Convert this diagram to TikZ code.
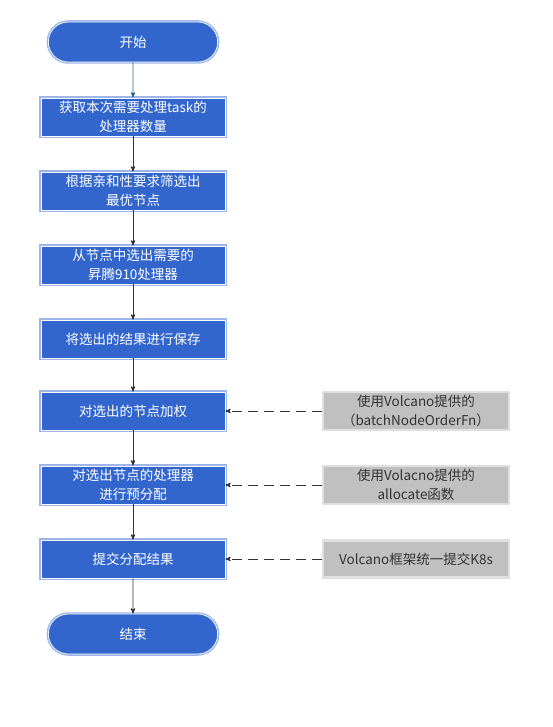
\documentclass[tikz,border=0pt]{standalone}
\usepackage{fontspec}
\setmainfont{Noto Sans CJK SC}
\usepackage{tikz}
\usetikzlibrary{arrows,shapes.misc}

\definecolor{boxblue}{HTML}{3366CC}
\definecolor{boxedge}{HTML}{9DB5E8}
\definecolor{notegray}{HTML}{C0C0C0}
\definecolor{noteedge}{HTML}{E0E0E0}
\definecolor{linegray}{HTML}{333333}
\definecolor{startline}{HTML}{2A6699}

\tikzset{
  stepbox/.style={rectangle, fill=boxblue, draw=white, line width=0.7pt,
    preaction={draw=boxedge, line width=3.5pt},
    minimum width=184pt, minimum height=38pt, text=white, align=center,
    font=\fontsize{13.5}{19}\selectfont},
  term/.style={stepbox, rounded rectangle, minimum width=176pt, minimum height=40pt},
  note/.style={rectangle, fill=notegray, draw=noteedge, line width=2.5pt,
    minimum width=186pt, minimum height=37pt, text=linegray, align=center,
    font=\fontsize{13.5}{19}\selectfont}
}

\begin{document}
\begin{tikzpicture}[x=1pt,y=-1pt]
\useasboundingbox (0,0) rectangle (553,727);
\node[term]      (S) at (133,42)   {开始};
  \node[stepbox]   (A) at (133,117)  {获取本次需要处理task的\\处理器数量};
  \node[stepbox]   (B) at (133,191)  {根据亲和性要求筛选出\\最优节点};
  \node[stepbox]   (C) at (133,265)  {从节点中选出需要的\\昇腾910处理器};
  \node[stepbox]   (D) at (133,339)  {将选出的结果进行保存};
  \node[stepbox]   (E) at (133,411)  {对选出的节点加权};
  \node[stepbox]   (F) at (133,485)  {对选出节点的处理器\\进行预分配};
  \node[stepbox]   (G) at (133,559)  {提交分配结果};
  \node[term]      (T) at (133,634)  {结束};

  \node[note]      (N1) at (416,411) {使用Volcano提供的\\（batchNodeOrderFn）};
  \node[note]      (N2) at (416,485) {使用Volacno提供的\\allocate函数};
  \node[note]      (N3) at (416,559) {Volcano框架统一提交K8s};


  \path[->,>=stealth', draw=startline, line width=0.9pt]
        (S) edge (A);

  \path[->,>=stealth', draw=linegray, line width=0.9pt]
        (A) edge (B)
        (B) edge (C)
        (C) edge (D)
        (D) edge (E)
        (E) edge (F)
        (F) edge (G)
        (G) edge (T);

  \path[->,>=stealth', draw=linegray, line width=0.9pt, dash pattern=on 10pt off 6pt]
        (N1) edge (E)
        (N2) edge (F)
        (N3) edge (G);

\end{tikzpicture}
\end{document}
